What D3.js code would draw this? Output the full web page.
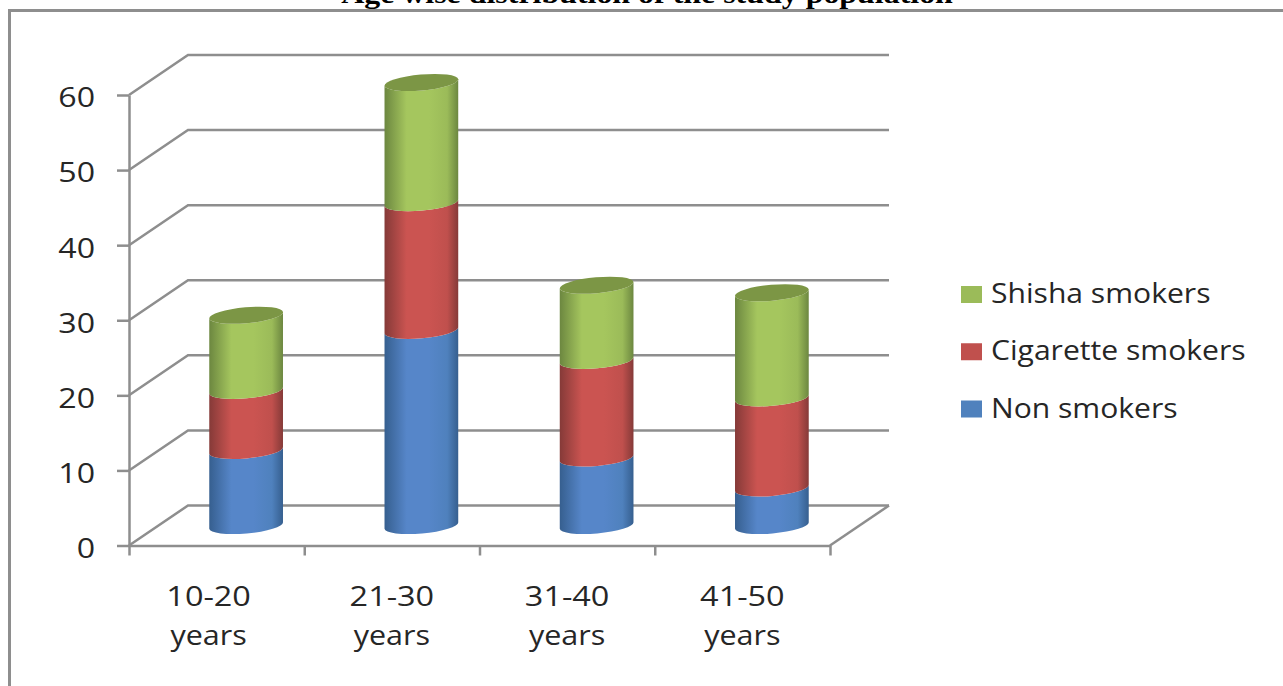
<!DOCTYPE html>
<html>
<head>
<meta charset="utf-8">
<script src="https://cdn.jsdelivr.net/npm/d3@7"></script>
<style>
  html, body { margin: 0; padding: 0; background: #fff; overflow: hidden; }
  svg { display: block; }
  text { font-family: "Open Sans", sans-serif; fill: #262626; }
</style>
</head>
<body>
<svg id="chart" width="1283" height="686"></svg>
<script>
// Survey counts per age band, stacked bottom to top
const categories = ["10-20", "21-30", "31-40", "41-50"];
const unitLabel = "years";
const nonSmokers = [10, 26, 9, 5];
const cigaretteSmokers = [8, 17, 13, 12];
const shishaSmokers = [10, 16, 10, 14];
const seriesNames = ["Non smokers", "Cigarette smokers", "Shisha smokers"];
const valueTicks = [0, 10, 20, 30, 40, 50, 60];
const titleText = "Age wise distribution of the study population";

const palette = {
  "Non smokers": { base: "#4f81bd", mid: "#5686c9", edge: "#365f8f" },
  "Cigarette smokers": { base: "#c0504d", mid: "#cb5451", edge: "#853a38" },
  "Shisha smokers": { base: "#9bbb59", mid: "#a5c65e", edge: "#6c8740", cap: "#7c9645" }
};

const svg = d3.select("#chart");
const GRID = "#8e8e8e";

// Floor geometry of the pseudo-3D plot box
const left = 129, right = 830, depthX = 59, depthY = 40;
const y = d3.scaleLinear().domain([0, 60]).range([545.5, 95]);
const x = d3.scaleBand().domain(categories).range([left, right]);
const edges = d3.scalePoint().domain(d3.range(categories.length + 1)).range([left, right]);
const barW = 74, rx = barW / 2, ry = 8, tilt = -5;

// Text is set wider than the font's natural proportions
const wide = (sel, cx, baseline, k) =>
  sel.attr("text-anchor", "middle")
     .attr("transform", `translate(${cx},${baseline}) scale(${k},1)`);

// Outer frame, open on the right and at the bottom
svg.append("path")
  .attr("d", "M9.5,686V10.5H1283")
  .attr("fill", "none").attr("stroke", GRID).attr("stroke-width", 3);

// Title, sitting across the top edge of the page
svg.append("text")
  .style("font-family", '"Liberation Serif", serif')
  .style("font-weight", "bold")
  .style("font-size", "28px")
  .style("fill", "#000")
  .text(titleText)
  .call(wide, 647, 3, 1.14);

// Side wall and back wall grid lines
const grid = svg.append("g").attr("fill", "none").attr("stroke", GRID).attr("stroke-width", 2.5);
grid.selectAll("path").data(valueTicks).join("path")
  .attr("d", d => `M${left},${y(d)}L${left + depthX},${y(d) - depthY}H${right + depthX}`);
grid.append("path")
  .attr("d", `M${right},${y(0)}L${right + depthX},${y(0) - depthY}`);

// Value axis
const yAxis = svg.append("g").attr("transform", `translate(${left},0)`)
  .call(d3.axisLeft(y).tickValues(valueTicks).tickSize(12).tickSizeOuter(0));
yAxis.selectAll("line, path").attr("stroke", GRID).attr("stroke-width", 2.5);
yAxis.selectAll("text")
  .style("font-size", "27px")
  .attr("dy", "0.44em")
  .attr("text-anchor", "end")
  .attr("transform", "scale(1.19,1)")
  .attr("x", -34 / 1.19);

// Category axis: tick marks at the band edges
const xTicks = svg.append("g").attr("transform", `translate(0,${y(0)})`)
  .call(d3.axisBottom(edges).tickSize(10).tickFormat("").tickSizeOuter(0));
xTicks.selectAll("line, path").attr("stroke", GRID).attr("stroke-width", 2.5);

// Category labels on two lines
const labels = svg.append("g").style("font-size", "27px");
categories.forEach((c, i) => {
  const cx = x(c) + x.bandwidth() / 2 - (i === 0 ? 8 : 0);
  labels.append("text").text(c).call(wide, cx, 606, 1.2);
  labels.append("text").text(unitLabel).call(wide, cx, 645, 1.13);
});

// Horizontal shading that gives each stack its rounded look
const defs = svg.append("defs");
seriesNames.forEach((name, i) => {
  const p = palette[name];
  const g = defs.append("linearGradient").attr("id", `shade${i}`);
  [[0, p.edge], [0.3, p.mid], [0.6, p.mid], [0.85, p.base], [1, p.edge]].forEach(([o, col]) =>
    g.append("stop").attr("offset", o).attr("stop-color", col));
});

// Cylinders: the centre line sits halfway back on the floor
const rad = tilt * Math.PI / 180;
const dx = rx * Math.cos(rad), dy = rx * Math.sin(rad);
const levelY = v => y(v) - depthY / 2;
const stacks = d3.stack().keys([0, 1, 2]).value((d, k) => d[k])(
  categories.map((c, i) => [nonSmokers[i], cigaretteSmokers[i], shishaSmokers[i]])
);
const bars = svg.append("g");
stacks.forEach((layer, s) => {
  layer.forEach((seg, i) => {
    const cx = x(categories[i]) + x.bandwidth() / 2 + depthX / 2;
    const y0 = levelY(seg[0]), y1 = levelY(seg[1]);
    bars.append("path")
      .attr("fill", `url(#shade${s})`)
      .attr("d",
        `M${cx - dx},${y0 - dy}A${rx},${ry} ${tilt} 0 0 ${cx + dx},${y0 + dy}` +
        `L${cx + dx},${y1 + dy}A${rx},${ry} ${tilt} 0 1 ${cx - dx},${y1 - dy}Z`);
  });
});

// Top caps
bars.selectAll("ellipse").data(stacks[2]).join("ellipse")
  .attr("rx", rx).attr("ry", ry)
  .attr("fill", palette["Shisha smokers"].cap)
  .attr("transform", (d, i) =>
    `translate(${x(categories[i]) + x.bandwidth() / 2 + depthX / 2},${levelY(d[1])}) rotate(${tilt})`);

// Legend, listed top to bottom in stacking order
const legendY = d3.scalePoint().domain([...seriesNames].reverse()).range([303, 417.5]);
const legend = svg.append("g").selectAll("g").data(seriesNames).join("g")
  .attr("transform", d => `translate(961,${legendY(d)})`);
legend.append("rect")
  .attr("y", -17).attr("width", 21).attr("height", 17)
  .attr("fill", d => palette[d].base);
legend.append("text")
  .attr("transform", "translate(30,0) scale(1.115,1)")
  .style("font-size", "27px")
  .text(d => d);
</script>
</body>
</html>
